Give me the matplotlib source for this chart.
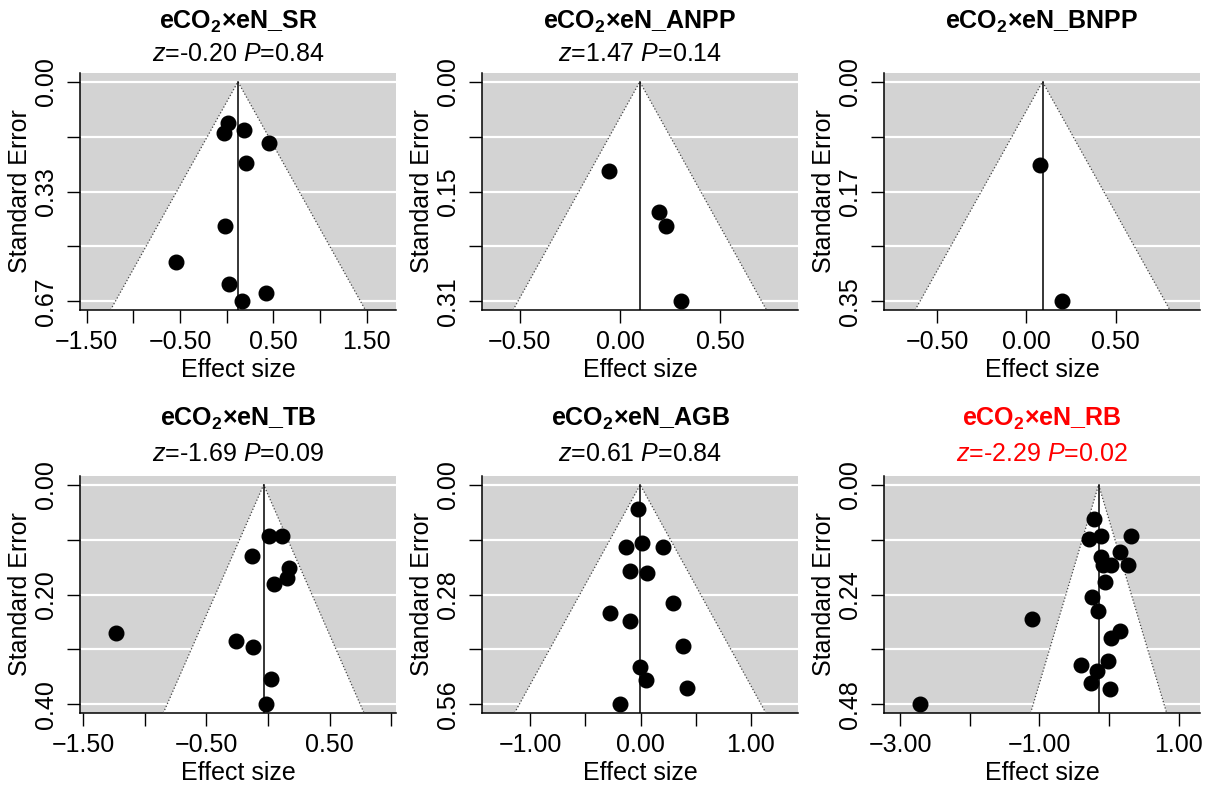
import matplotlib
matplotlib.use("Agg")
import matplotlib.pyplot as plt
from matplotlib.patches import Polygon

plt.rcParams["font.family"] = ["Liberation Sans", "DejaVu Sans"]
plt.rcParams["mathtext.fontset"] = "custom"
plt.rcParams["mathtext.rm"] = "Liberation Sans"
plt.rcParams["mathtext.it"] = "Liberation Sans:italic"
plt.rcParams["mathtext.bf"] = "Liberation Sans:bold"

# ---- data (effect size, standard error) ----
names = ["SR", "ANPP", "BNPP", "TB", "AGB", "RB"]
stats = ["$\\it{z}$=-0.20 $\\it{P}$=0.84", "$\\it{z}$=1.47 $\\it{P}$=0.14", "",
         "$\\it{z}$=-1.69 $\\it{P}$=0.09", "$\\it{z}$=0.61 $\\it{P}$=0.84",
         "$\\it{z}$=-2.29 $\\it{P}$=0.02"]
pooled = [0.121, 0.098, 0.090, -0.035, -0.003, -0.149]
se_max = [0.67, 0.31, 0.35, 0.40, 0.56, 0.48]
y_labels = [["0.00", "0.33", "0.67"], ["0.00", "0.15", "0.31"], ["0.00", "0.17", "0.35"],
            ["0.00", "0.20", "0.40"], ["0.00", "0.28", "0.56"], ["0.00", "0.24", "0.48"]]

es_sr = [0.018, -0.025, 0.189, 0.457, 0.207, -0.018, -0.547, 0.029, 0.418, 0.161]
se_sr = [0.126, 0.156, 0.146, 0.187, 0.248, 0.439, 0.551, 0.618, 0.645, 0.670]
es_anpp = [-0.058, 0.195, 0.228, 0.303]
se_anpp = [0.126, 0.184, 0.204, 0.310]
es_bnpp = [0.075, 0.200]
se_bnpp = [0.132, 0.350]
es_tb = [0.008, 0.114, -0.130, 0.171, 0.155, 0.046, -1.236, -0.263, -0.122, 0.027, -0.014]
se_tb = [0.094, 0.093, 0.129, 0.151, 0.170, 0.181, 0.270, 0.284, 0.296, 0.354, 0.400]
es_agb = [-0.024, 0.015, -0.136, 0.206, -0.100, 0.058, 0.297, -0.273, -0.100, 0.385,
          -0.003, 0.052, 0.424, -0.185]
se_agb = [0.062, 0.149, 0.160, 0.158, 0.219, 0.226, 0.301, 0.327, 0.347, 0.411,
          0.465, 0.497, 0.518, 0.560]
es_rb = [-0.216, -0.289, -0.120, 0.313, 0.154, -0.120, -0.087, 0.034, 0.274, -0.053,
         -0.245, -0.159, -1.111, 0.154, 0.024, -0.014, -0.399, -0.168, -0.255, 0.010, -2.717]
se_rb = [0.075, 0.118, 0.111, 0.111, 0.146, 0.157, 0.175, 0.175, 0.175, 0.213,
         0.245, 0.276, 0.294, 0.319, 0.336, 0.385, 0.394, 0.408, 0.433, 0.447, 0.480]

effects = [es_sr, es_anpp, es_bnpp, es_tb, es_agb, es_rb]
errors = [se_sr, se_anpp, se_bnpp, se_tb, se_agb, se_rb]

x_ticks = [[-1.5, -1.0, -0.5, 0.0, 0.5, 1.0, 1.5], [-0.5, 0.0, 0.5], [-0.5, 0.0, 0.5],
           [-1.5, -1.0, -0.5, 0.0, 0.5, 1.0], [-1.0, -0.5, 0.0, 0.5, 1.0],
           [-3.0, -2.0, -1.0, 0.0, 1.0]]
x_labelled = [[-1.5, -0.5, 0.5, 1.5], [-0.5, 0.0, 0.5], [-0.5, 0.0, 0.5],
              [-1.5, -0.5, 0.5], [-1.0, 0.0, 1.0], [-3.0, -1.0, 1.0]]
x_lims = [(-1.572, 1.815), (-0.689, 0.887), (-0.798, 0.972),
          (-1.527, 1.04), (-1.44, 1.43), (-3.236, 1.309)]

W, H = 1213, 794
fig = plt.figure(figsize=(W / 100, H / 100), dpi=100)
lefts = [80, 482, 884]
rows = [(73, 310), (476, 713)]
title_off = [(37, 14), (41, 16)]   # points above the axes top, per row


def fmt(v):
    s = f"{abs(v):.2f}"
    return ("\u2212" + s) if v < 0 else s


for i, name in enumerate(names):
    r, c = divmod(i, 3)
    top, bot = rows[r]
    ax = fig.add_axes([lefts[c] / W, 1 - bot / H, 316 / W, (bot - top) / H])
    ax.set_facecolor("#d3d3d3")

    m = se_max[i]
    ybot = m * 1.04
    ax.set_ylim(ybot, -m * 0.04)
    ax.set_xlim(*x_lims[i])

    yt = [m * k / 4 for k in range(5)]
    for y in yt:
        ax.axhline(y, color="white", lw=1.6, zorder=1)

    est = pooled[i]
    half = 1.96 * ybot
    ax.add_patch(Polygon([(est - half, ybot), (est, 0), (est + half, ybot)],
                         closed=True, facecolor="white", edgecolor="none", zorder=2))
    ax.plot([est - half, est, est + half], [ybot, 0, ybot], color="#444444",
            lw=0.9, ls=":", zorder=3)
    ax.plot([est, est], [0, ybot], color="black", lw=1.1, zorder=3)
    ax.plot(effects[i], errors[i], "o", color="black", ms=10.5, zorder=4)

    ax.set_yticks(yt)
    labs = y_labels[i]
    ax.set_yticklabels([labs[0], "", labs[1], "", labs[2]], rotation=90, va="center")
    ax.set_xticks(x_ticks[i])
    ax.set_xticklabels([fmt(v) if v in x_labelled[i] else "" for v in x_ticks[i]])
    ax.tick_params(axis="both", length=9.5, width=1.0, labelsize=18, pad=6)
    ax.tick_params(axis="x", pad=5)

    for s in ["top", "right"]:
        ax.spines[s].set_visible(False)
    for s in ["left", "bottom"]:
        ax.spines[s].set_linewidth(1.1)

    ax.set_xlabel("Effect size", fontsize=18, va="center")
    ax.xaxis.set_label_coords(0.5, -0.253)
    ax.set_ylabel("Standard Error", fontsize=18, va="center")
    ax.yaxis.set_label_coords(-0.19, 0.5)

    col = "red" if name == "RB" else "black"
    t_off, z_off = title_off[r]
    ax.annotate(f"eCO$_\\mathbf{{2}}$\u00d7eN_{name}", (0.5, 1), xycoords="axes fraction",
                xytext=(0, t_off), textcoords="offset points", ha="center", va="center",
                fontsize=18, fontweight="bold", color=col)
    if stats[i]:
        ax.annotate(stats[i], (0.5, 1), xycoords="axes fraction",
                    xytext=(0, z_off), textcoords="offset points", ha="center", va="center",
                    fontsize=18, color=col)

fig.savefig("out.png", dpi=100)
